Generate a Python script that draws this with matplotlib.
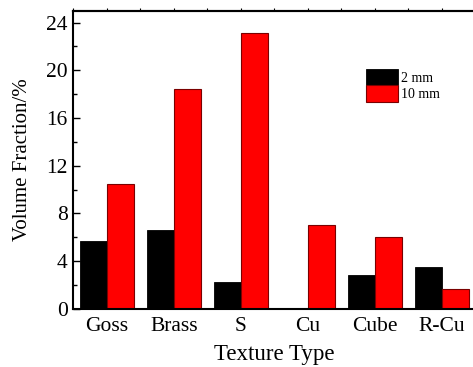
import matplotlib.pyplot as plt
import numpy as np

categories = ["Goss", "Brass", "S", "Cu", "Cube", "R-Cu"]
vf_2mm = [5.7, 6.6, 2.2, 0.0, 2.8, 3.5]
vf_10mm = [10.5, 18.4, 23.1, 7.05, 6.0, 1.65]
y_ticks = [0, 4, 8, 12, 16, 20, 24]

plt.rcParams["font.family"] = ["Liberation Serif", "DejaVu Serif"]

fig = plt.figure(figsize=(4.73, 3.67), dpi=100)
ax = fig.add_axes([73.3 / 473, 1 - 308.7 / 367, (475.5 - 73.3) / 473, (308.7 - 10.7) / 367])

x = np.arange(len(categories))
w = 0.4
ax.bar(x - w / 2, vf_2mm, w, color="black", edgecolor="black", linewidth=0.6, label="2 mm")
ax.bar(x + w / 2, vf_10mm, w, color="#ff0000", edgecolor="#7a0000", linewidth=0.8, label="10 mm")

ax.set_xlim(-0.5, 5.5)
ax.set_ylim(0, 25)
ax.set_yticks(y_ticks)
ax.set_yticks(np.arange(0, 25, 2), minor=True)
ax.set_xticks(x)
ax.set_xticklabels(categories)

ax.tick_params(axis="y", which="major", direction="in", length=5, width=1, labelsize=15.5, pad=4)
ax.tick_params(axis="y", which="minor", direction="in", length=3, width=1)
ax.tick_params(axis="x", which="major", direction="in", length=0, labelsize=15.5, pad=6)
for s in ax.spines.values():
    s.set_linewidth(1.5)
ax.spines["right"].set_visible(False)

# small outward ticks along the top spine
sec = ax.secondary_xaxis("top")
sec.set_xticks(np.arange(-0.5, 5.6, 0.5))
sec.set_xticklabels([])
sec.tick_params(direction="out", length=2, width=0.8)
sec.spines["top"].set_linewidth(1.5)

ax.set_xlabel("Texture Type", fontsize=16.5, labelpad=6)
ax.set_ylabel("Volume Fraction/%", fontsize=15, labelpad=10)

ax.legend(loc="upper left", bbox_to_anchor=(0.727, 0.805), frameon=False, fontsize=10,
          handlelength=2.3, handleheight=1.45, handletextpad=0.25, labelspacing=0.0,
          borderpad=0.0, borderaxespad=0.0)

fig.savefig("out.png", dpi=100)
